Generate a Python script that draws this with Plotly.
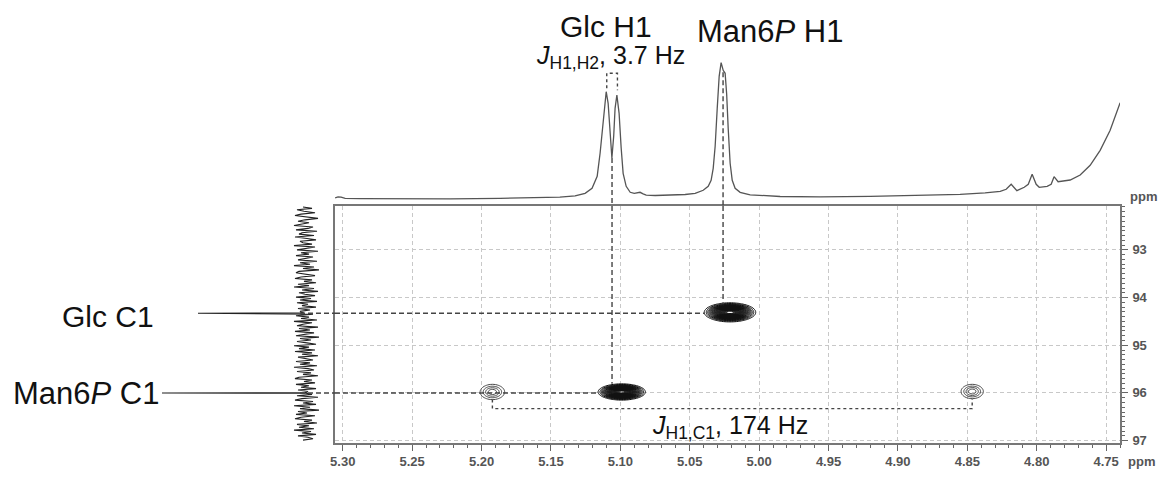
import numpy as np
import plotly.graph_objects as go

# ---------------- data ----------------
# 1H projection (top trace): chemical shift (ppm) and intensity (a.u.)
h1_ppm = [5.3055, 5.3034, 5.3012, 5.2983, 5.2875, 5.2587, 5.2227, 5.1866, 5.1578, 5.1436,
          5.1326, 5.1254, 5.1204, 5.1167, 5.1146, 5.1124, 5.1102, 5.1088, 5.1074, 5.1061,
          5.1048, 5.1038, 5.1025, 5.1009, 5.0994, 5.0980, 5.0958, 5.0929, 5.0900, 5.0879,
          5.0858, 5.0836, 5.0814, 5.0749, 5.0641, 5.0533, 5.0461, 5.0403, 5.0367, 5.0346,
          5.0331, 5.0317, 5.0302, 5.0288, 5.0274, 5.0259, 5.0245, 5.0234, 5.0223, 5.0209,
          5.0194, 5.0173, 5.0137, 5.0065, 4.9849, 4.9561, 4.9200, 4.8840, 4.8552, 4.8372,
          4.8263, 4.8220, 4.8184, 4.8143, 4.8090, 4.8061, 4.8033, 4.8004, 4.7982, 4.7925,
          4.7896, 4.7875, 4.7846, 4.7759, 4.7687, 4.7615, 4.7543, 4.7471, 4.7399]
h1_int = [0.5, 1.5, 1.2, 0.0, -0.3, -0.6, -0.5, 0.0, 0.5, 1.2,
          2.5, 5.0, 10.0, 22, 45, 80, 106.6, 95, 62, 40.3,
          62, 90, 103.3, 85, 50, 25, 12, 6, 5, 5.8,
          6.0, 4.5, 3.2, 2.8, 3, 3.8, 5, 8, 12, 18,
          30, 52, 90, 122, 135.6, 128, 125, 104, 70, 35,
          18, 10, 6, 3.5, 1.8, 1.5, 2.0, 3, 4, 5.5,
          7, 9, 14, 7.6, 11, 14, 24, 14, 11, 12,
          14, 21.6, 16.6, 18.3, 23.3, 33, 48, 68, 95.6]

# 13C projection (left trace): chemical shift (ppm) and intensity (a.u.)
c13_ppm = [92.10, 92.13, 92.16, 92.19, 92.22, 92.25, 92.28, 92.31, 92.34, 92.37,
           92.40, 92.43, 92.46, 92.49, 92.52, 92.55, 92.58, 92.61, 92.64, 92.67,
           92.70, 92.73, 92.76, 92.79, 92.82, 92.85, 92.88, 92.91, 92.94, 92.97,
           93.00, 93.03, 93.06, 93.09, 93.12, 93.15, 93.18, 93.21, 93.24, 93.27,
           93.30, 93.33, 93.36, 93.39, 93.42, 93.45, 93.48, 93.51, 93.54, 93.57,
           93.60, 93.63, 93.66, 93.69, 93.72, 93.75, 93.78, 93.81, 93.84, 93.87,
           93.90, 93.93, 93.96, 93.99, 94.02, 94.05, 94.08, 94.11, 94.14, 94.17,
           94.20, 94.23, 94.26, 94.29, 94.325, 94.33, 94.335, 94.35, 94.38, 94.41,
           94.44, 94.47, 94.50, 94.53, 94.56, 94.59, 94.62, 94.65, 94.68, 94.71,
           94.74, 94.77, 94.80, 94.83, 94.86, 94.89, 94.92, 94.95, 94.98, 95.01,
           95.04, 95.07, 95.10, 95.13, 95.16, 95.19, 95.22, 95.25, 95.28, 95.31,
           95.34, 95.37, 95.40, 95.43, 95.46, 95.49, 95.52, 95.55, 95.58, 95.61,
           95.64, 95.67, 95.70, 95.73, 95.76, 95.79, 95.82, 95.85, 95.88, 95.91,
           95.94, 95.97, 95.995, 96.00, 96.005, 96.03, 96.06, 96.09, 96.12, 96.15,
           96.18, 96.21, 96.24, 96.27, 96.30, 96.33, 96.36, 96.39, 96.42, 96.45,
           96.48, 96.51, 96.54, 96.57, 96.60, 96.63, 96.66, 96.69, 96.72, 96.75,
           96.78, 96.81, 96.84, 96.87, 96.90, 96.93, 96.96, 96.99]
c13_int = [3, -6, 9, 2, -9, 5, 11, -4, -12, 1,
           8, -3, 6, 12, -7, -2, 10, -11, 4, 7,
           -8, 11, -1, -10, 6, 3, -6, 12, -9, 2,
           9, -12, 5, -3, 10, -7, 1, 8, -11, 6,
           -4, 12, -8, 3, -13, 7, 10, -2, -9, 5,
           11, -6, 2, -10, 8, -3, 12, -8, 4, -12,
           7, 1, -9, 10, -5, 6, -11, 9, -2, 4,
           -10, 8, -4, 6, 2, 108, 1, -7, 10, -3,
           5, -11, 12, -6, 3, 9, -12, 7, -4, 11,
           -8, 2, 10, -13, 6, -5, 9, -1, -10, 12,
           -3, 7, -9, 11, -6, 4, -12, 8, 1, -7,
           10, -4, 6, -11, 12, -2, -8, 9, -5, 3,
           -12, 7, 11, -6, 2, -9, 10, -3, 5, -10,
           8, -2, 1, 144, 0, -6, 9, -12, 4, 11,
           -7, 3, -10, 12, -4, 6, -13, 8, -1, 10,
           -9, 5, 11, -6, 2, -11, 9, -3, 7, -8,
           12, -5, 4, -10, 8, -2, -7, 3]

# HSQC cross peaks: 1H shift, 13C shift, half extents, relative amplitude
pk_h = [5.021, 5.099, 5.1922, 4.8465]
pk_c = [94.31, 95.98, 95.98, 95.97]
pk_hw_h = [0.0185, 0.0170, 0.0088, 0.0080]
pk_hw_c = [0.20, 0.17, 0.16, 0.15]
pk_amp = [1.0, 1.0, 0.22, 0.22]

# assignments
glc_h1_ppm = 5.106
man_h1_ppm = 5.026
glc_c1_ppm = 94.33
man_c1_ppm = 96.00
glc_h1_dip = 40.3          # projection intensity between the doublet lines
man_h1_top = 126           # projection intensity where the Man6P H1 marker starts
doublet_ppm = [5.1098, 5.1021]
doublet_tops = [110, 108]
doublet_bracket = 125
jch_bracket_c = 96.33

x_labels = ["5.30", "5.25", "5.20", "5.15", "5.10", "5.05", "5.00", "4.95", "4.90", "4.85", "4.80", "4.75"]
y_labels = ["93", "94", "95", "96", "97"]

# ---------------- axes geometry ----------------
X_RANGE = [5.3056, 4.740]
C_RANGE = [97.05, 92.08]
HI_RANGE = [-7.7, 148.3]
CI_RANGE = [156, -29]

W, H = 1166, 481
def px(x):
    return x / W
def py(y):
    return 1 - y / H

main_xdom = [px(335), px(1120)]
main_ydom = [py(443), py(206)]
top_ydom = [py(206), py(50)]
left_xdom = [px(150), px(335)]

FONT = "Arial, Liberation Sans, sans-serif"
LINE_C = "#444444"

fig = go.Figure()

# 2D contours (strong and weak peaks drawn with their own level spacing)
gx = np.linspace(X_RANGE[1], X_RANGE[0], 480)
gy = np.linspace(C_RANGE[1], C_RANGE[0], 340)
GX, GY = np.meshgrid(gx, gy)
lowest = 0.05

def peak_field(sel):
    Z = np.zeros_like(GX)
    for i in sel:
        a = pk_amp[i]
        k = np.sqrt(2 * np.log(a / lowest))
        sx, sy = pk_hw_h[i] / k, pk_hw_c[i] / k
        Z += a * np.exp(-0.5 * ((GX - pk_h[i]) / sx) ** 2 - 0.5 * ((GY - pk_c[i]) / sy) ** 2)
    return Z

strong = [i for i, a in enumerate(pk_amp) if a >= 0.5]
weak = [i for i, a in enumerate(pk_amp) if a < 0.5]

fig.add_trace(go.Contour(
    x=gx, y=gy, z=peak_field(strong), xaxis="x", yaxis="y",
    autocontour=False,
    contours=dict(start=lowest, end=0.97, size=0.028, coloring="lines"),
    colorscale=[[0, "#111111"], [1, "#111111"]], showscale=False,
    line=dict(width=1.0), hoverinfo="skip"))
fig.add_trace(go.Contour(
    x=gx, y=gy, z=peak_field(weak), xaxis="x", yaxis="y",
    autocontour=False,
    contours=dict(start=lowest, end=0.5, size=0.045, coloring="lines"),
    colorscale=[[0, "#333333"], [1, "#333333"]], showscale=False,
    line=dict(width=0.9), hoverinfo="skip"))

# 1H projection
fig.add_trace(go.Scatter(x=h1_ppm, y=h1_int, xaxis="x2", yaxis="y2", mode="lines",
                         line=dict(color="#555555", width=1.3), hoverinfo="skip"))
# 13C projection
fig.add_trace(go.Scatter(x=c13_int, y=c13_ppm, xaxis="x3", yaxis="y3", mode="lines",
                         line=dict(color="#222222", width=1.1), hoverinfo="skip"))

def conn(xs, ys, xa, ya, dash):
    fig.add_trace(go.Scatter(x=xs, y=ys, xaxis=xa, yaxis=ya, mode="lines",
                             line=dict(color=LINE_C, width=1.4, dash=dash), hoverinfo="skip"))

DASH = "5px,3px"
# Glc H1 vertical
conn([glc_h1_ppm, glc_h1_ppm], [glc_h1_dip, HI_RANGE[0]], "x2", "y2", DASH)
conn([glc_h1_ppm, glc_h1_ppm], [C_RANGE[1], pk_c[1] - pk_hw_c[1]], "x", "y", DASH)
# Man6P H1 vertical
conn([man_h1_ppm, man_h1_ppm], [man_h1_top, HI_RANGE[0]], "x2", "y2", DASH)
conn([man_h1_ppm, man_h1_ppm], [C_RANGE[1], pk_c[0] - pk_hw_c[0]], "x", "y", DASH)
# Glc C1 horizontal
conn([6, CI_RANGE[1]], [glc_c1_ppm, glc_c1_ppm], "x3", "y3", DASH)
conn([X_RANGE[0], pk_h[0] + pk_hw_h[0]], [glc_c1_ppm, glc_c1_ppm], "x", "y", DASH)
# Man6P C1 horizontal
conn([6, CI_RANGE[1]], [man_c1_ppm, man_c1_ppm], "x3", "y3", DASH)
conn([X_RANGE[0], pk_h[1] + pk_hw_h[1]], [man_c1_ppm, man_c1_ppm], "x", "y", DASH)
# J(H1,H2) bracket
conn([doublet_ppm[0], doublet_ppm[0], doublet_ppm[1], doublet_ppm[1]],
     [doublet_tops[0], doublet_bracket, doublet_bracket, doublet_tops[1]], "x2", "y2", "dot")
# J(H1,C1) bracket
conn([pk_h[2], pk_h[2], pk_h[3], pk_h[3]],
     [pk_c[2] + pk_hw_c[2], jch_bracket_c, jch_bracket_c, pk_c[3] + pk_hw_c[3]], "x", "y", "dot")

tickfont = dict(family=FONT, size=13, color="#555555", weight="bold")
grid = dict(showgrid=True, gridcolor="#c8c8c8", gridwidth=1, griddash="4px,3px")

fig.update_layout(
    width=W, height=H, autosize=False,
    margin=dict(l=0, r=0, t=0, b=0, pad=0),
    paper_bgcolor="white", plot_bgcolor="rgba(0,0,0,0)",
    showlegend=False,
    xaxis=dict(domain=main_xdom, range=X_RANGE, anchor="y", automargin=False,
               tickmode="array", tickvals=[float(v) for v in x_labels], ticktext=x_labels,
               ticks="outside", ticklen=6, tickwidth=1.2, tickcolor="#666666",
               minor=dict(dtick=0.01, tick0=4.75, ticks="outside", ticklen=3, tickcolor="#666666", showgrid=False),
               showline=True, linecolor="#777777", linewidth=1.6, mirror=True,
               zeroline=False, tickfont=tickfont, **grid),
    yaxis=dict(domain=main_ydom, range=C_RANGE, anchor="x", side="right", automargin=False,
               tickmode="array", tickvals=[float(v) for v in y_labels], ticktext=y_labels,
               ticks="outside", ticklen=6, tickwidth=1.2, tickcolor="#666666", ticklabelstandoff=2,
               minor=dict(dtick=0.1, tick0=93, ticks="outside", ticklen=3, tickcolor="#666666", showgrid=False),
               showline=True, linecolor="#777777", linewidth=1.6, mirror=True,
               zeroline=False, tickfont=tickfont, **grid),
    xaxis2=dict(domain=main_xdom, range=X_RANGE, anchor="y2", visible=False),
    yaxis2=dict(domain=top_ydom, range=HI_RANGE, anchor="x2", visible=False),
    xaxis3=dict(domain=left_xdom, range=CI_RANGE, anchor="y3", visible=False),
    yaxis3=dict(domain=main_ydom, range=C_RANGE, anchor="x3", visible=False),
)

big = dict(family=FONT, size=30, color="#111111")
big_m = dict(family=FONT, size=31, color="#111111")
mid = dict(family=FONT, size=25, color="#111111")
small = dict(family=FONT, size=13, color="#555555", weight="bold")
ann = [
    dict(text="Glc H1", x=px(606), y=py(26), xanchor="center", yanchor="middle", font=big),
    dict(text="<i>J</i><sub>H1,H2</sub>, 3.7 Hz", x=px(610), y=py(57), xanchor="center", yanchor="middle", font=mid),
    dict(text="Man6<i>P</i> H1", x=px(770), y=py(31), xanchor="center", yanchor="middle", font=big_m),
    dict(text="Glc C1", x=px(156), y=py(316), xanchor="right", yanchor="middle", font=big),
    dict(text="Man6<i>P</i> C1", x=px(161), y=py(393), xanchor="right", yanchor="middle", font=big_m),
    dict(text="<i>J</i><sub>H1,C1</sub>, 174 Hz", x=px(650), y=py(427), xanchor="left", yanchor="middle", font=mid),
    dict(text="ppm", x=px(1141), y=py(461), xanchor="center", yanchor="middle", font=small),
    dict(text="ppm", x=px(1143), y=py(196), xanchor="center", yanchor="middle", font=small),
]
for a in ann:
    a.update(xref="paper", yref="paper", showarrow=False)
fig.update_layout(annotations=ann)

fig.write_html("out.html", config={"displayModeBar": False},
               post_script="document.body.style.margin='0';document.body.style.overflow='hidden';")
